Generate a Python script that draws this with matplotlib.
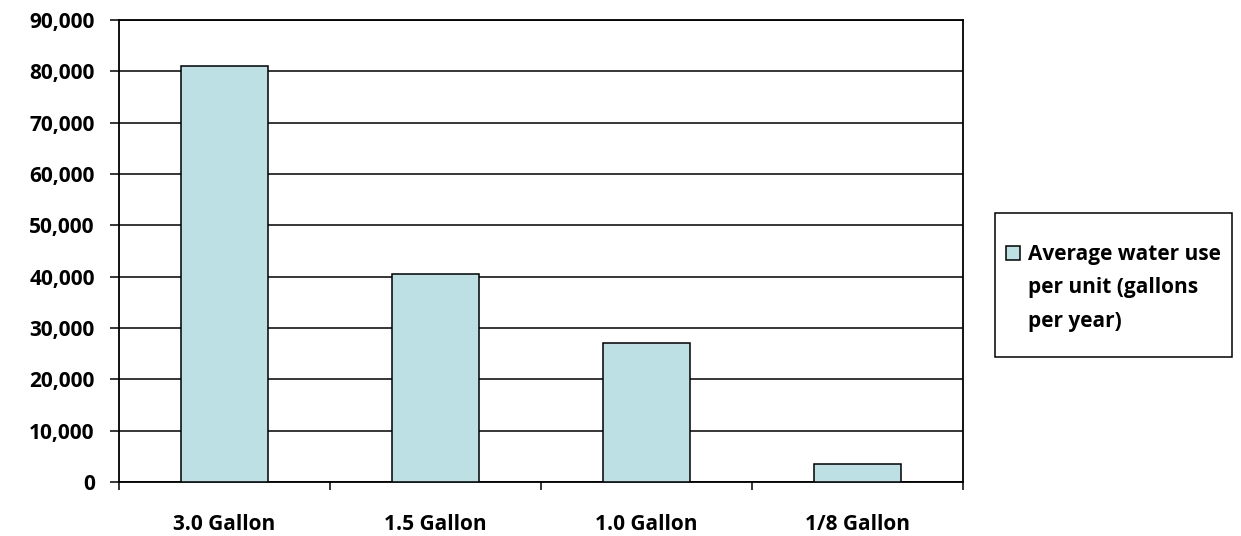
import matplotlib
matplotlib.use("Agg")
import matplotlib.pyplot as plt
from matplotlib.patches import Rectangle
from matplotlib.ticker import FixedLocator, NullFormatter

categories = ["3.0 Gallon", "1.5 Gallon", "1.0 Gallon", "1/8 Gallon"]
water_use = [81000, 40500, 27000, 3500]
legend_lines = ["Average water use", "per unit (gallons", "per year)"]
y_ticks = [0, 10000, 20000, 30000, 40000, 50000, 60000, 70000, 80000, 90000]

plt.rcParams['font.family'] = ['Open Sans', 'DejaVu Sans']
plt.rcParams['font.weight'] = 'bold'
FS = 15

W, H = 1241, 536
fig = plt.figure(figsize=(W / 100, H / 100), dpi=100)
ax = fig.add_axes([119 / W, 1 - 482 / H, (963 - 119) / W, (482 - 20) / H])

x = list(range(len(categories)))
bars = ax.bar(x, water_use, width=0.41, color='#BCE0E3', edgecolor='black',
              linewidth=1.1, zorder=3)

ax.set_xlim(-0.5, len(categories) - 0.5)
ax.set_ylim(0, y_ticks[-1])
ax.set_yticks(y_ticks)
ax.set_yticklabels([f"{v:,}" for v in y_ticks])
ax.yaxis.grid(True, color='black', linewidth=1.1)
ax.set_axisbelow(True)

# major ticks at category boundaries, labels at centres (minor ticks)
ax.xaxis.set_major_locator(FixedLocator([i - 0.5 for i in range(len(categories) + 1)]))
ax.xaxis.set_major_formatter(NullFormatter())
ax.xaxis.set_minor_locator(FixedLocator(x))
ax.set_xticklabels(categories, minor=True)
ax.tick_params(axis='x', which='minor', length=0, pad=23, labelsize=FS)
ax.tick_params(axis='x', which='major', length=6, width=1.1, direction='out')
ax.tick_params(axis='y', length=6.5, width=1.1, pad=11, labelsize=FS)

for s in ax.spines.values():
    s.set_linewidth(1.3)
    s.set_color('black')

# legend box (frame drawn separately for exact padding)
fig.patches.append(Rectangle((995 / W, 1 - 357 / H), (1232 - 995) / W, (357 - 213) / H,
                             transform=fig.transFigure, facecolor='white',
                             edgecolor='black', linewidth=1.1, zorder=1))

blank1 = Rectangle((0, 0), 1, 1, visible=False)
blank2 = Rectangle((0, 0), 1, 1, visible=False)
leg = fig.legend([bars, blank1, blank2], legend_lines,
                 loc='center left', bbox_to_anchor=(1006 / W, 1 - 288 / H),
                 bbox_transform=fig.transFigure, borderaxespad=0, borderpad=0,
                 fontsize=FS, handlelength=0.67, handleheight=0.67,
                 handletextpad=0.4, labelspacing=0.58, frameon=False)
leg.set_zorder(5)

fig.savefig("out.png", dpi=100)
